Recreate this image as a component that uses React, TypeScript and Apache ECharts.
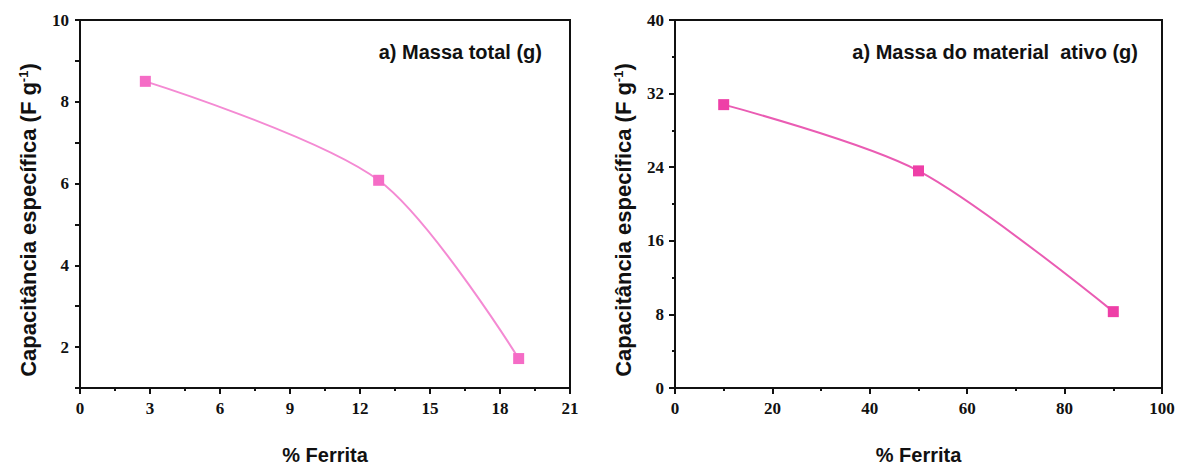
import React, { useEffect, useRef } from "react";
import * as echarts from "echarts";

// Left panel: specific capacitance vs. ferrite content (total mass)
const ferritaTotal = [2.8, 12.8, 18.8];
const capTotal = [8.5, 6.08, 1.72];

// Right panel: specific capacitance vs. ferrite content (active material mass)
const ferritaAtivo = [10, 50, 90];
const capAtivo = [30.8, 23.6, 8.3];

const panelTitleLeft = "a) Massa total (g)";
const panelTitleRight = "a) Massa do material  ativo (g)";
const xName = "% Ferrita";
const yName = "{t|Capacitância específica (F g}{s|-1}{t|)}";

const ink = "#111";
const PANEL_W = 590;
const PANEL_H = 463;

interface Panel {
  xs: number[];
  ys: number[];
  xMin: number;
  xMax: number;
  xStep: number;
  yMin: number;
  yMax: number;
  yStep: number;
  yEvenOnly: boolean;
  gridLeft: number;
  gridWidth: number;
  title: string;
  titleRight: number;
  lineColor: string;
  markerColor: string;
}

function buildOption(p: Panel) {
  const line = () => ({ color: ink, width: 2 });
  const gridTop = 20;
  const gridHeight = 368;
  return {
    animation: false,
    grid: {
      left: p.gridLeft,
      top: gridTop,
      width: p.gridWidth,
      height: gridHeight,
      show: true,
      borderColor: ink,
      borderWidth: 2,
      backgroundColor: "transparent",
      outerBoundsMode: "none",
    },
    xAxis: {
      type: "value",
      min: p.xMin,
      max: p.xMax,
      interval: p.xStep,
      axisLine: { show: true, lineStyle: line() },
      axisTick: { show: true, length: 6, lineStyle: line() },
      minorTick: { show: true, splitNumber: 2, length: 3, lineStyle: line() },
      splitLine: { show: false },
      axisLabel: { color: ink, fontSize: 17, fontFamily: "Liberation Serif", fontWeight: "bold", margin: 12 },
    },
    yAxis: {
      type: "value",
      min: p.yMin,
      max: p.yMax,
      interval: p.yStep,
      axisLine: { show: true, lineStyle: line() },
      axisTick: { show: true, length: p.yEvenOnly ? 5 : 6, lineStyle: line() },
      minorTick: { show: !p.yEvenOnly, splitNumber: 2, length: 3, lineStyle: line() },
      splitLine: { show: false },
      axisLabel: {
        color: ink,
        fontSize: 17,
        fontFamily: "Liberation Serif",
        fontWeight: "bold",
        margin: 11,
        formatter: (v: number) => (p.yEvenOnly && v % 2 !== 0 ? "" : String(v)),
      },
    },
    series: [
      {
        type: "line",
        data: p.xs.map((x, i) => [x, p.ys[i]]),
        smooth: 0.3,
        symbol: "rect",
        symbolSize: 11,
        lineStyle: { color: p.lineColor, width: 2 },
        itemStyle: { color: p.markerColor },
      },
    ],
    graphic: [
      {
        type: "text",
        right: p.titleRight,
        top: 42,
        style: { text: p.title, fontFamily: "Liberation Sans", fontWeight: "bold", fontSize: 20, fill: ink },
      },
      {
        type: "text",
        x: p.gridLeft + p.gridWidth / 2,
        y: 455,
        style: {
          text: xName,
          align: "center",
          verticalAlign: "middle",
          fontFamily: "Liberation Sans",
          fontWeight: "bold",
          fontSize: 20,
          fill: ink,
        },
      },
      {
        type: "text",
        x: p.gridLeft - 52,
        y: gridTop + gridHeight / 2 + 16,
        rotation: Math.PI / 2,
        style: {
          text: yName,
          align: "center",
          verticalAlign: "middle",
          rich: {
            t: { fontFamily: "Liberation Sans", fontWeight: "bold", fontSize: 22, fill: ink },
            s: {
              fontFamily: "Liberation Sans",
              fontWeight: "bold",
              fontSize: 13,
              fill: ink,
              verticalAlign: "top",
              padding: [0, 0, 10, 0],
            },
          },
        },
      },
    ],
  };
}

const leftPanel: Panel = {
  xs: ferritaTotal,
  ys: capTotal,
  xMin: 0,
  xMax: 21,
  xStep: 3,
  yMin: 1,
  yMax: 10,
  yStep: 1,
  yEvenOnly: true,
  gridLeft: 80,
  gridWidth: 490,
  title: panelTitleLeft,
  titleRight: PANEL_W - 542,
  lineColor: "#f48ad3",
  markerColor: "#f56cc6",
};

const rightPanel: Panel = {
  xs: ferritaAtivo,
  ys: capAtivo,
  xMin: 0,
  xMax: 100,
  xStep: 20,
  yMin: 0,
  yMax: 40,
  yStep: 8,
  yEvenOnly: false,
  gridLeft: 675 - PANEL_W,
  gridWidth: 487,
  title: panelTitleRight,
  titleRight: PANEL_W - (1138 - PANEL_W),
  lineColor: "#ea5cb3",
  markerColor: "#ee3fa7",
};

function ChartPanel({ panel, left }: { panel: Panel; left: number }) {
  const ref = useRef<HTMLDivElement>(null);
  useEffect(() => {
    if (!ref.current) return;
    const chart = echarts.init(ref.current, null, { renderer: "svg" });
    chart.setOption(buildOption(panel) as any);
    return () => chart.dispose();
  }, [panel]);
  return (
    <div
      ref={ref}
      style={{ position: "absolute", left, top: 0, width: PANEL_W, height: PANEL_H }}
    />
  );
}

export default function App() {
  useEffect(() => {
    document.body.style.margin = "0";
  }, []);
  return (
    <div style={{ position: "relative", width: 1180, height: PANEL_H, background: "#fff" }}>
      <ChartPanel panel={leftPanel} left={0} />
      <ChartPanel panel={rightPanel} left={PANEL_W} />
    </div>
  );
}
